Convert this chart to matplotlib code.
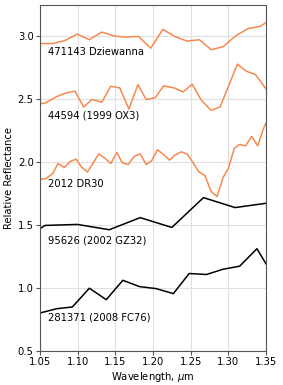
import matplotlib
matplotlib.use("Agg")
from matplotlib import pyplot as plt
import numpy as np

# spectra (wavelength in micron, relative reflectance)
dziewanna_wl = [1.05, 1.0677, 1.0832, 1.0996, 1.1155, 1.132, 1.1487, 1.1642, 1.1806, 1.197,
                1.213, 1.229, 1.245, 1.2616, 1.2775, 1.2934, 1.310, 1.3267, 1.3422, 1.35]
dziewanna_rf = [2.944, 2.944, 2.968, 3.019, 2.974, 3.035, 3.003, 2.995, 3.0, 2.907,
                3.056, 3.0, 2.963, 2.974, 2.894, 2.92, 3.006, 3.064, 3.08, 3.11]

ox3_wl = [1.05, 1.0566, 1.072, 1.0845, 1.0965, 1.108, 1.119, 1.132, 1.144, 1.156,
          1.168, 1.180, 1.191, 1.203, 1.214, 1.228, 1.240, 1.252, 1.264, 1.277,
          1.289, 1.300, 1.312, 1.324, 1.336, 1.35]
ox3_rf = [2.466, 2.469, 2.522, 2.551, 2.565, 2.439, 2.50, 2.477, 2.604, 2.591,
          2.423, 2.617, 2.498, 2.514, 2.607, 2.591, 2.559, 2.620, 2.495, 2.413,
          2.439, 2.601, 2.78, 2.724, 2.697, 2.583]

dr30_wl = [1.05, 1.058, 1.067, 1.074, 1.082, 1.090, 1.098, 1.105, 1.113, 1.121,
           1.128, 1.136, 1.144, 1.152, 1.159, 1.167, 1.175, 1.183, 1.191, 1.198,
           1.206, 1.214, 1.222, 1.229, 1.238, 1.246, 1.253, 1.261, 1.269, 1.277,
           1.285, 1.293, 1.300, 1.308, 1.315, 1.323, 1.331, 1.339, 1.346, 1.35]
dr30_rf = [1.863, 1.871, 1.911, 1.990, 1.958, 2.006, 2.025, 1.963, 1.923, 1.998,
           2.067, 2.033, 1.990, 2.078, 1.998, 1.982, 2.046, 2.067, 1.982, 2.011,
           2.099, 2.062, 2.017, 2.057, 2.083, 2.062, 1.998, 1.923, 1.895, 1.770,
           1.727, 1.879, 1.951, 2.112, 2.142, 2.131, 2.206, 2.131, 2.256, 2.314]

gz32_wl = [1.05, 1.0566, 1.0996, 1.142, 1.183, 1.225, 1.267, 1.309, 1.35]
gz32_rf = [1.472, 1.498, 1.506, 1.464, 1.560, 1.482, 1.719, 1.640, 1.674]

fc76_wl = [1.05, 1.072, 1.093, 1.1155, 1.138, 1.160, 1.182, 1.204, 1.227, 1.248,
           1.271, 1.293, 1.315, 1.338, 1.35]
fc76_rf = [0.802, 0.836, 0.850, 0.999, 0.908, 1.062, 1.012, 0.996, 0.956, 1.116,
           1.108, 1.150, 1.174, 1.313, 1.193]

names = ["471143 Dziewanna", "44594 (1999 OX3)", "2012 DR30",
         "95626 (2002 GZ32)", "281371 (2008 FC76)"]
label_y = [2.876, 2.373, 1.825, 1.379, 0.770]

orange = "#f5894f"
series = [
    (dziewanna_wl, dziewanna_rf, orange),
    (ox3_wl, ox3_rf, orange),
    (dr30_wl, dr30_rf, orange),
    (gz32_wl, gz32_rf, "black"),
    (fc76_wl, fc76_rf, "black"),
]

plt.rcParams["font.size"] = 7.2
fig = plt.figure(figsize=(2.83, 3.85), dpi=100)
ax = fig.add_axes([0.1413, 0.0883, 0.7986, 0.8987])

for (wl, rf, col), name, ly in zip(series, names, label_y):
    ax.plot(wl, rf, color=col, lw=1.1)
    ax.text(1.0605, ly, name, va="center", ha="left", fontsize=7.2)

ax.set_xlim(1.05, 1.35)
ax.set_ylim(0.5, 3.25)
ax.set_xticks(np.arange(1.05, 1.351, 0.05))
ax.set_yticks(np.arange(0.5, 3.01, 0.5))
ax.grid(True, color="#e0e0e0", lw=0.8)
ax.set_axisbelow(True)
for s in ax.spines.values():
    s.set_color("#555555")
ax.tick_params(length=3, width=0.8, color="#555555", pad=1.5)
ax.set_xlabel("Wavelength, $\\mu$m", labelpad=2)
ax.set_ylabel("Relative Reflectance", labelpad=3)

fig.savefig("out.png", dpi=100)
